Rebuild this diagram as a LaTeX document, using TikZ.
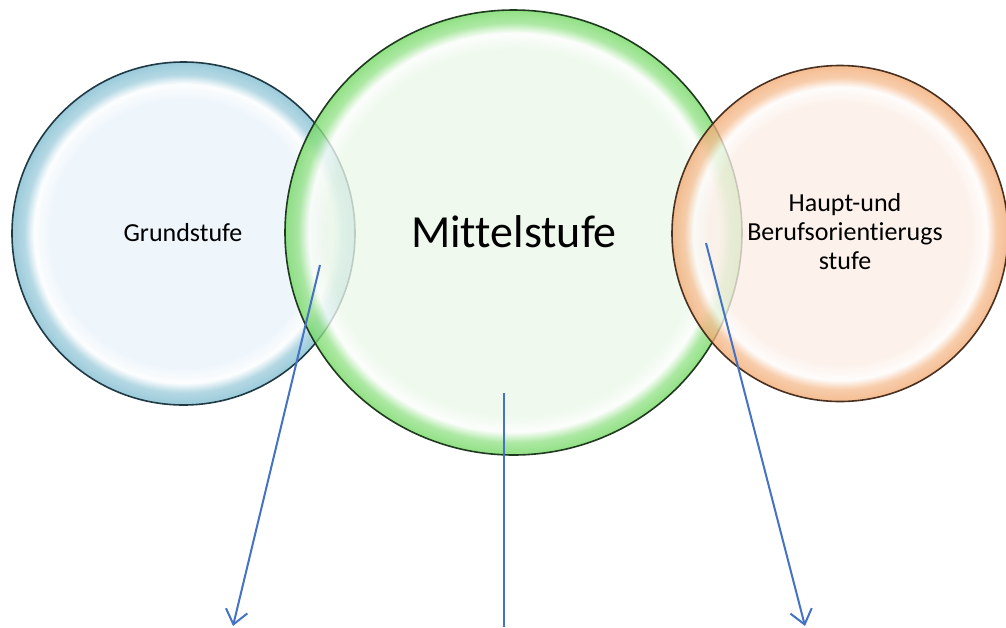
\documentclass[tikz,border=0pt]{standalone}
\usepackage{fontspec}
\setmainfont[Ligatures=NoCommon]{Carlito}
\usetikzlibrary{arrows.meta,shapes.geometric}
\definecolor{bluefill}{HTML}{EAF3FA}
\definecolor{blueedge}{HTML}{7FBCD0}
\definecolor{blueline}{HTML}{1F3A44}
\definecolor{greenfill}{HTML}{EAF7E8}
\definecolor{greenedge}{HTML}{72D862}
\definecolor{greenline}{HTML}{1F3A1F}
\definecolor{orangefill}{HTML}{FBEEE6}
\definecolor{orangeedge}{HTML}{F2AA72}
\definecolor{orangeline}{HTML}{4A3020}
\definecolor{arrowblue}{HTML}{4472C4}
\pgfdeclareradialshading{bubbleblue}{\pgfpointorigin}{color(0bp)=(bluefill); color(19.5bp)=(bluefill); color(21.8bp)=(white!80!bluefill); color(23.2bp)=(blueedge!75!white); color(25bp)=(blueedge); color(50bp)=(blueedge)}
\pgfdeclareradialshading{bubblegreen}{\pgfpointorigin}{color(0bp)=(greenfill); color(20.5bp)=(greenfill); color(22.4bp)=(white!80!greenfill); color(23.6bp)=(greenedge!75!white); color(25bp)=(greenedge); color(50bp)=(greenedge)}
\pgfdeclareradialshading{bubbleorange}{\pgfpointorigin}{color(0bp)=(orangefill); color(19.5bp)=(orangefill); color(21.8bp)=(white!80!orangefill); color(23.2bp)=(orangeedge!75!white); color(25bp)=(orangeedge); color(50bp)=(orangeedge)}
\tikzset{
  bubble/.style={inner sep=0pt, line width=1.6pt, fill opacity=0.78},
  smalltext/.style={font=\fontsize{26}{29}\selectfont, align=center, inner sep=0pt},
  bigtext/.style={font=\fontsize{46}{50}\selectfont, inner sep=0pt},
  link/.style={draw=arrowblue, line width=2pt},
  linkarrow/.style={link, -{Straight Barb[length=14pt,width=22pt,line width=2pt]}}
}
\begin{document}
\begin{tikzpicture}[x=1pt,y=-1pt]
\useasboundingbox (0,0) rectangle (1006,627);
\node[bubble, circle, minimum size=343pt, shading=bubbleblue, draw=blueline] (grund) at (183.5,233.5) {};
\node[bubble, ellipse, minimum width=457pt, minimum height=445pt, shading=bubblegreen, draw=greenline] (mittel) at (513.5,232.5) {};
\node[bubble, circle, minimum size=336pt, shading=bubbleorange, draw=orangeline] (haupt) at (840,233.5) {};
\node[smalltext] (tgrund) at (183,233) {Grundstufe};
\node[bigtext] (tmittel) at (514,232) {Mittelstufe};
\node[smalltext] (thaupt) at (845,232) {Haupt-und\\Berufsorientierugs\\stufe};
\coordinate (s1) at (320,265);
\coordinate (e1) at (233,626);
\coordinate (s2) at (504,393);
\coordinate (e2) at (504,627);
\coordinate (s3) at (706,243);
\coordinate (e3) at (805,626);
\draw[linkarrow] (s1) -- (e1);
\draw[link] (s2) -- (e2);
\draw[linkarrow] (s3) -- (e3);
\end{tikzpicture}
\end{document}
